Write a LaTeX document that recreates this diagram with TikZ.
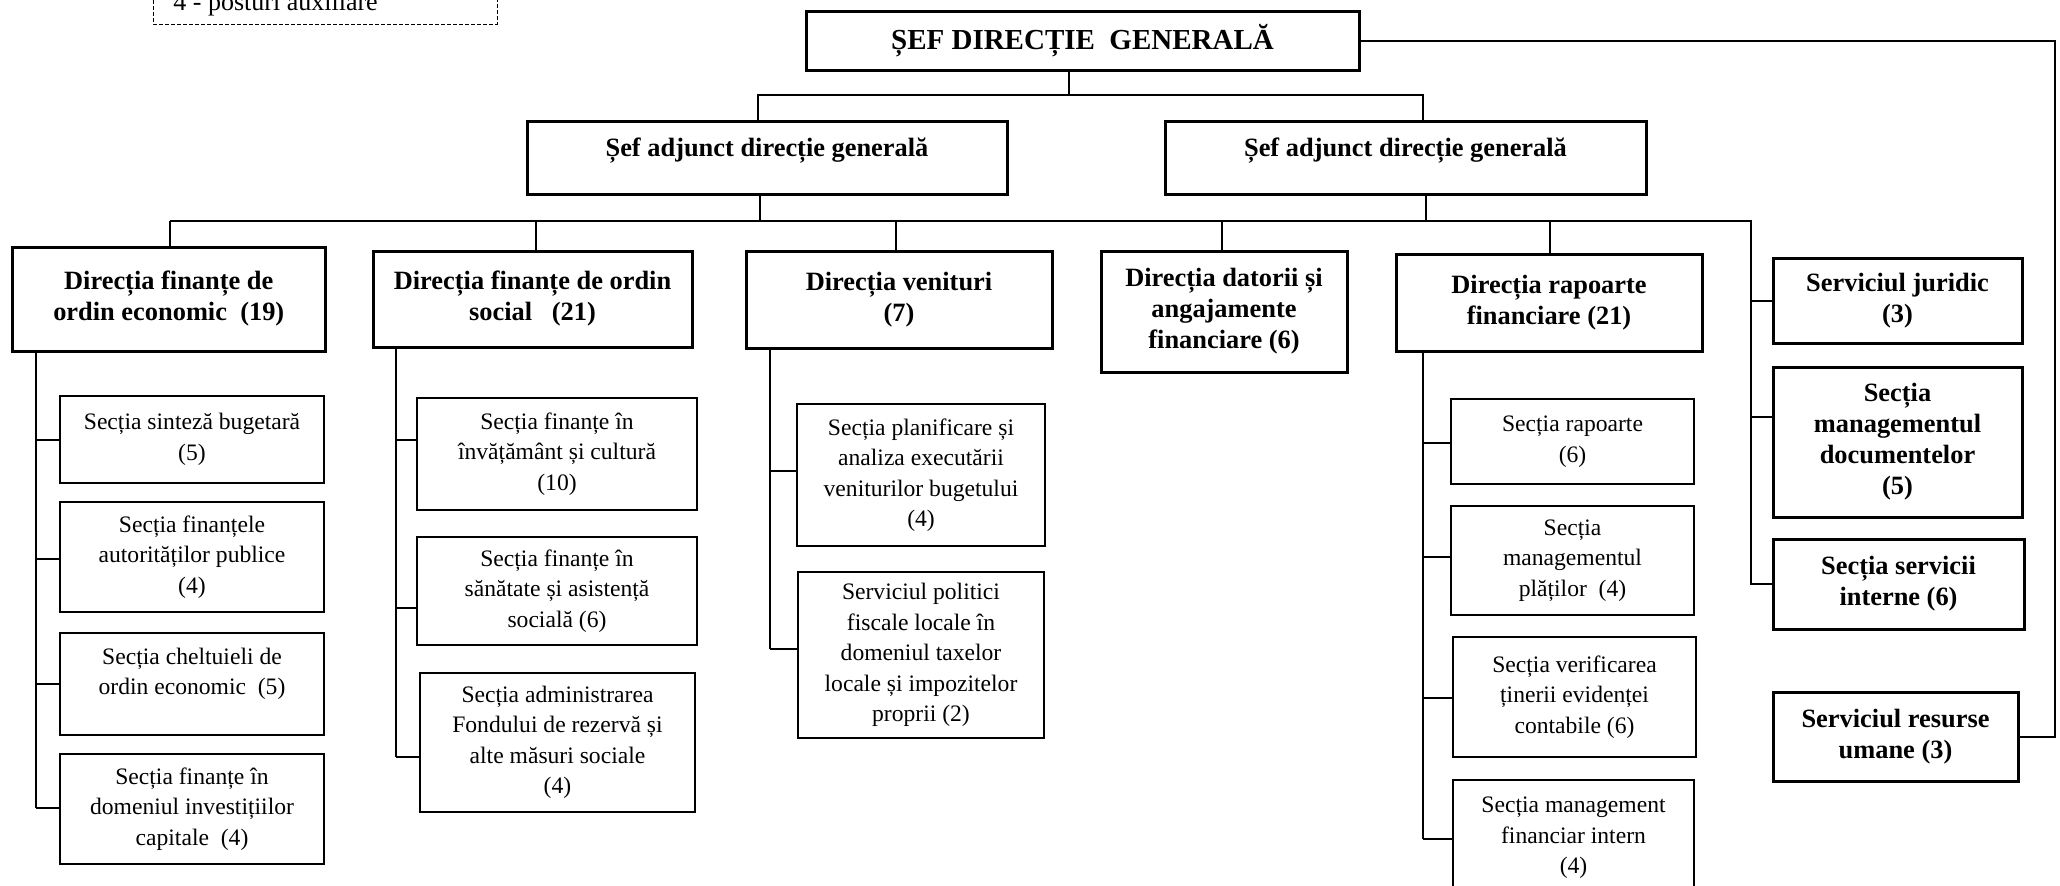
\documentclass[tikz,border=0pt]{standalone}
\usepackage{fontspec}
\setmainfont{Liberation Serif}
\usetikzlibrary{arrows}

\begin{document}
\begin{tikzpicture}[x=0.5pt,y=-0.5pt,
  head/.style={draw,line width=1.5pt,align=center,inner sep=1pt,
    font=\fontsize{13.2}{15.5}\selectfont\bfseries},
  sect/.style={draw,line width=1pt,align=center,inner sep=1pt,
    font=\fontsize{11.8}{15.2}\selectfont},
  link/.style={line width=1pt}]
\useasboundingbox (0,0) rectangle (2060,885);
\clip (0,0) rectangle (2060,885);

% legend (cut at the top edge)
\draw[dash pattern=on 2pt off 1pt,line width=0.5pt] (153,-60) rectangle (497,24);
\node[anchor=base west,inner sep=0pt,font=\fontsize{13}{15}\selectfont] (legend) at (173,10) {4 - posturi auxiliare};

% top levels
\node[draw,line width=1.5pt,minimum width=276.5pt,minimum height=29.5pt,
  font=\fontsize{14.5}{17}\selectfont\bfseries] (sef) at (1082.5,40.5) {ȘEF DIRECȚIE~ GENERALĂ};
\node[head,minimum width=240pt,minimum height=36.5pt,text depth=10pt] (adj1) at (767,157.5) {Șef adjunct direcție generală};
\node[head,minimum width=240.5pt,minimum height=36.5pt,text depth=10pt] (adj2) at (1405.5,157.5) {Șef adjunct direcție generală};

% directions
\node[head,minimum width=156.25pt,minimum height=52pt] (dir1) at (168.75,299) {Direcția finanțe de\\ordin economic~ (19)};
\node[head,minimum width=159.5pt,minimum height=48pt] (dir2) at (532.5,299) {Direcția finanțe de ordin\\social~~ (21)};
\node[head,minimum width=153pt,minimum height=48.5pt] (dir3) at (899,299.5) {Direcția venituri\\(7)};
\node[head,minimum width=123pt,minimum height=60.5pt] (dir4) at (1224,311.5) {Direcția datorii și\\angajamente\\financiare (6)};
\node[head,minimum width=153pt,minimum height=48.5pt] (dir5) at (1549,302.5) {Direcția rapoarte\\financiare (21)};
\node[head,minimum width=124.5pt,minimum height=42.5pt] (jur) at (1897.5,300.5) {Serviciul juridic\\(3)};
\node[head,minimum width=124.5pt,minimum height=75pt] (mdoc) at (1897.5,442) {Secția\\managementul\\documentelor\\(5)};
\node[head,minimum width=125.5pt,minimum height=45pt] (sint) at (1898.5,584) {Secția servicii\\interne (6)};
\node[head,minimum width=122.5pt,minimum height=44.5pt] (hr) at (1895.5,736.5) {Serviciul resurse\\umane (3)};

% sections
\node[sect,minimum width=132pt,minimum height=43.5pt] (s1) at (192,439.5) {Secția sinteză bugetară\\(5)};
\node[sect,minimum width=132pt,minimum height=55pt] (s2) at (192,557) {Secția finanțele\\autorităților publice\\(4)};
\node[sect,minimum width=132pt,minimum height=51pt,text depth=13pt] (s3) at (192,684) {Secția cheltuieli de\\ordin economic~ (5)};
\node[sect,minimum width=132pt,minimum height=55pt] (s4) at (192,809) {Secția finanțe în\\domeniul investițiilor\\capitale~ (4)};
\node[sect,minimum width=140pt,minimum height=56pt] (s5) at (557,454) {Secția finanțe în\\învățământ și cultură\\(10)};
\node[sect,minimum width=140pt,minimum height=54pt] (s6) at (557,591) {Secția finanțe în\\sănătate și asistență\\socială (6)};
\node[sect,minimum width=137.5pt,minimum height=69.5pt] (s7) at (557.5,742.5) {Secția administrarea\\Fondului de rezervă și\\alte măsuri sociale\\(4)};
\node[sect,minimum width=124pt,minimum height=71pt] (s8) at (921,475) {Secția planificare și\\analiza executării\\veniturilor bugetului\\(4)};
\node[sect,minimum width=123pt,minimum height=83pt] (s9) at (921,655) {Serviciul politici\\fiscale locale în\\domeniul taxelor\\locale și impozitelor\\proprii (2)};
\node[sect,minimum width=121.5pt,minimum height=42.5pt] (s10) at (1572.5,441.5) {Secția rapoarte\\(6)};
\node[sect,minimum width=121.5pt,minimum height=54.5pt] (s11) at (1572.5,560.5) {Secția\\managementul\\plăților~ (4)};
\node[sect,minimum width=121.5pt,minimum height=60pt] (s12) at (1574.5,697) {Secția verificarea\\ținerii evidenței\\contabile (6)};
\node[sect,minimum width=120.5pt,minimum height=58pt] (s13) at (1573.5,838) {Secția management\\financiar intern\\(4)};

% links
\draw[link] (sef.south -| 1069,0) -- (1069,95);
\draw[link] (adj1.north -| 758,0) -- (758,95) -- (1423,95) -- (adj2.north -| 1423,0);
\draw[link] (sef.east) -| (hr.east -| 2055,0) -- (hr.east);

\coordinate (busL) at (170,221);
\coordinate (busR) at (1751,221);
\draw[link] (busL) -- (busR) -- (busR |- 0,585);
\foreach \nm/\x in {adj1/760,adj2/1426}
  \draw[link] (\nm.south -| \x,0) -- (\x,221);
\foreach \nm/\x in {dir1/170,dir2/536,dir3/896,dir4/1222,dir5/1550}
  \draw[link] (\x,221) -- (\x,221 |- \nm.north);
\foreach \nm/\y in {jur/301,mdoc/417,sint/584}
  \draw[link] (1751,\y) -- (1751,\y -| \nm.west);

% columns
\draw[link] (dir1.south -| 36,0) -- (36,808);
\foreach \nm/\y in {s1/440,s2/559,s3/684,s4/808}
  \draw[link] (36,\y) -- (36,\y -| \nm.west);
\draw[link] (dir2.south -| 396,0) -- (396,757);
\foreach \nm/\y in {s5/440,s6/608,s7/757}
  \draw[link] (396,\y) -- (396,\y -| \nm.west);
\draw[link] (dir3.south -| 770,0) -- (770,649);
\foreach \nm/\y in {s8/471,s9/649}
  \draw[link] (770,\y) -- (770,\y -| \nm.west);
\draw[link] (dir5.south -| 1423,0) -- (1423,839);
\foreach \nm/\y in {s10/443,s11/557,s12/698,s13/839}
  \draw[link] (1423,\y) -- (1423,\y -| \nm.west);
\end{tikzpicture}
\end{document}
